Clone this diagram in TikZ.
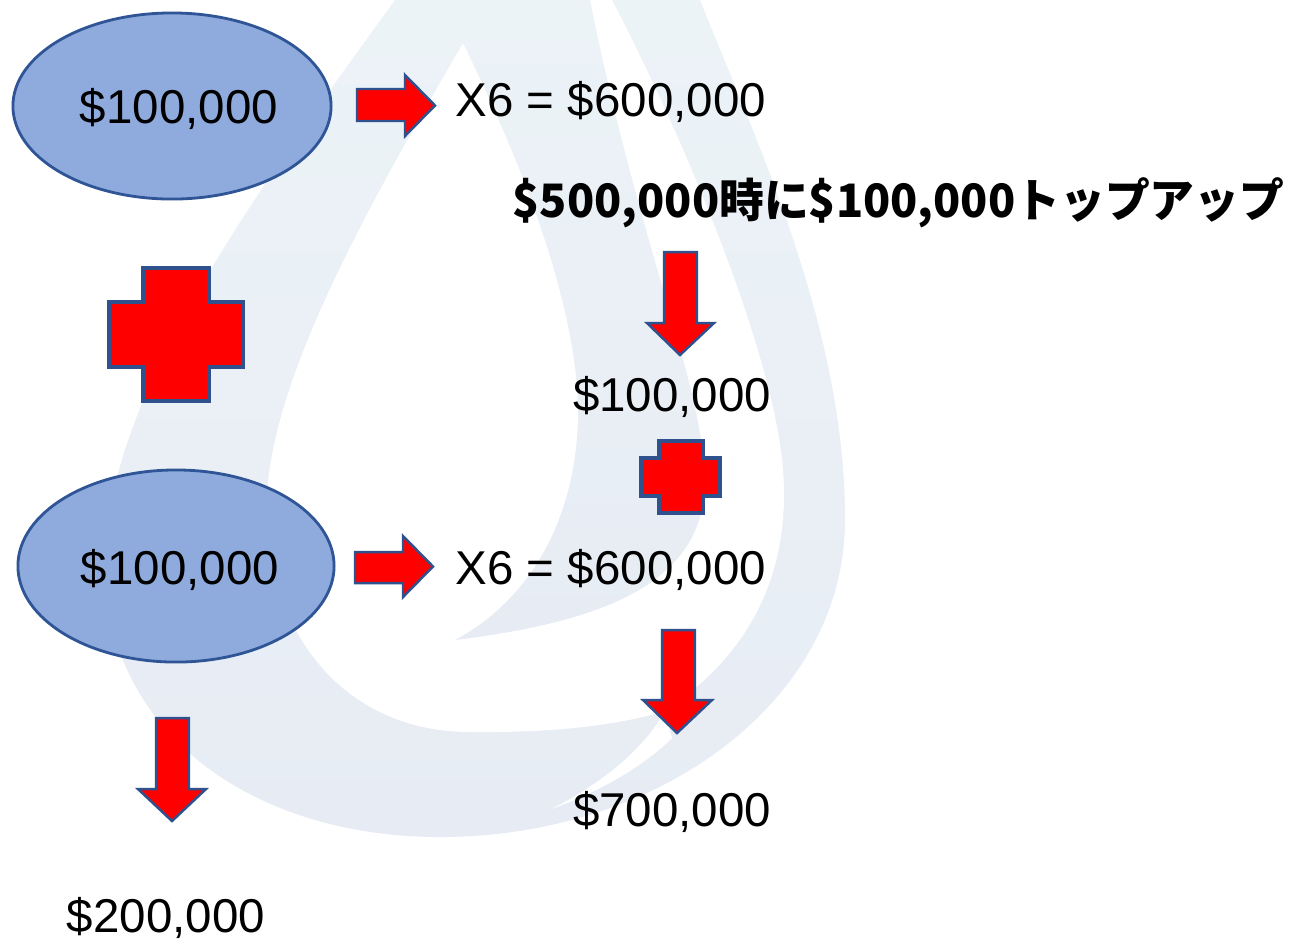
\documentclass[tikz,border=0pt]{standalone}
\usepackage{fontspec}
\usepackage{graphicx}
\setmainfont{Liberation Sans}
\newfontfamily\jpfont{Noto Sans CJK JP}
\usetikzlibrary{shapes.geometric}
\definecolor{ellfill}{RGB}{143,170,220}
\definecolor{ellline}{RGB}{47,85,151}
\definecolor{arrline}{RGB}{47,82,143}
\definecolor{wmbot}{RGB}{231,236,244}
\definecolor{wmtop}{RGB}{236,243,247}
\tikzset{
  amount/.style={font=\fontsize{13.5}{16}\selectfont, inner sep=0pt},
  jptext/.style={font=\jpfont\bfseries\fontsize{13.1}{16}\selectfont, inner sep=0pt},
  oval/.style={ellipse, draw=ellline, line width=0.8pt, fill=ellfill, inner sep=0pt},
  redshape/.style={fill=red, draw=arrline, line width=0.7pt, line join=miter},
  redcross/.style={fill=red, draw=arrline, line width=1pt, line join=miter},
  wmshade/.style={top color=wmtop, bottom color=wmbot, draw=none},
  wmhole/.style={fill=white, draw=none}
}
\begin{document}
\begin{tikzpicture}[x=0.01cm,y=-0.01cm]
\useasboundingbox (0,0) rectangle (1295,941);
\fill[white] (0,0) rectangle (1295,941);
% ---- watermark drop ----
\path[wmshade] (395,0) .. controls (250,200) and (105,400) .. (105,565)
  .. controls (105,730) and (250,837) .. (440,837)
  .. controls (660,837) and (845,700) .. (845,520)
  .. controls (845,330) and (760,150) .. (700,0) -- cycle;
\path[wmhole] (463,43) .. controls (390,170) and (270,370) .. (267,500)
  .. controls (265,640) and (350,732) .. (470,732)
  .. controls (560,733) and (620,724) .. (662,712)
  .. controls (760,650) and (790,560) .. (783,470)
  .. controls (775,360) and (690,150) .. (612,0) -- (470,0) -- cycle;
\path[wmhole] (551,809) .. controls (600,792) and (645,765) .. (672,738)
  -- (664,712) .. controls (650,740) and (610,780) .. (551,809) -- cycle;
\path[wmshade] (463,43) .. controls (540,200) and (580,330) .. (578,420)
  .. controls (575,520) and (530,600) .. (455,640)
  .. controls (600,622) and (705,585) .. (705,480)
  .. controls (702,380) and (640,250) .. (590,0) -- (445,0) -- cycle;
% ---- ovals ----
\node[oval, minimum width=3.18cm, minimum height=1.86cm] (e1) at (172,106) {};
\node[oval, minimum width=3.16cm, minimum height=1.92cm] (e2) at (176,566) {};
% ---- block arrows ----
\draw[redshape] (357,89) -- (405,89) -- (405,75) -- (435,105.5) -- (405,136) -- (405,121) -- (357,121) -- cycle;
\draw[redshape] (355,552) -- (403,552) -- (403,536) -- (433,566.5) -- (403,597) -- (403,583) -- (355,583) -- cycle;
\draw[redshape] (664,252) -- (697,252) -- (697,323) -- (714,323) -- (680,355) -- (647,323) -- (664,323) -- cycle;
\draw[redshape] (662,630) -- (695,630) -- (695,700) -- (712,700) -- (677,733) -- (643,700) -- (662,700) -- cycle;
\draw[redshape] (156,718) -- (189,718) -- (189,789) -- (206,789) -- (172,821) -- (138,789) -- (156,789) -- cycle;
% ---- crosses ----
\draw[redcross] (143,268) -- (209,268) -- (209,302) -- (243,302) -- (243,367) -- (209,367) -- (209,401) -- (143,401) -- (143,367) -- (109,367) -- (109,302) -- (143,302) -- cycle;
\draw[redcross] (659,441) -- (703,441) -- (703,458) -- (720,458) -- (720,496) -- (703,496) -- (703,513) -- (659,513) -- (659,496) -- (641,496) -- (641,458) -- (659,458) -- cycle;
% ---- texts ----
\node[amount, anchor=base] (t1) at (179,123) {\$100,000};
\node[amount, anchor=base] (t2) at (180,584) {\$100,000};
\node[amount, anchor=base west] (x1) at (455,116) {X6 = \$600,000};
\node[amount, anchor=base west] (x2) at (455,584) {X6 = \$600,000};
\node[jptext, anchor=base west] (jp) at (512,217) {\resizebox{7.71cm}{\height}{\$500,000時に\$100,000トップアップ}};
\node[amount, anchor=base] (t3) at (672,411) {\$100,000};
\node[amount, anchor=base] (t4) at (672,826) {\$700,000};
\node[amount, anchor=base] (t5) at (166,932) {\$200,000};
\end{tikzpicture}
\end{document}
